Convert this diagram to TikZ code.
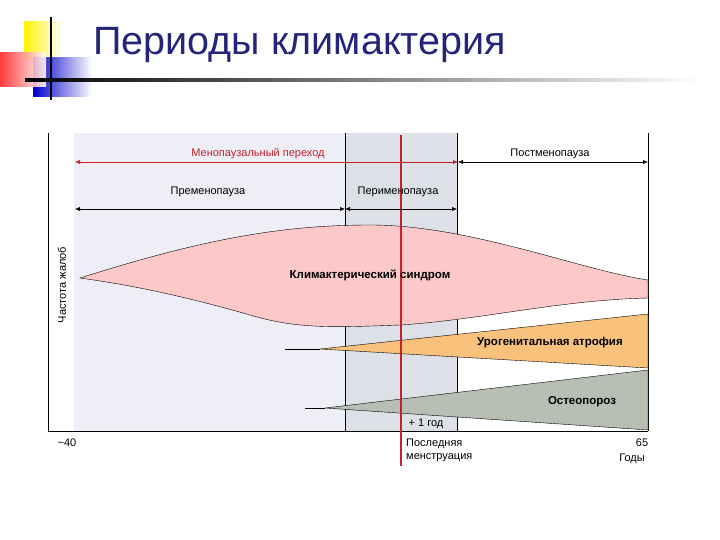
\documentclass[tikz,border=0pt]{standalone}
\usepackage{fontspec}
\setmainfont{Liberation Sans}
\usetikzlibrary{arrows.meta}
\definecolor{ttl}{HTML}{24247A}
\definecolor{lav}{HTML}{EEEEF6}
\definecolor{peri}{HTML}{DDE0E6}
\definecolor{pinkf}{HTML}{FCC8C8}
\definecolor{orf}{HTML}{F9C27C}
\definecolor{grf}{HTML}{B7BFB4}
\definecolor{redl}{HTML}{C8202A}
\tikzset{lbl/.style={font=\fontsize{11}{13}\selectfont,inner sep=1pt},
 bl/.style={font=\fontsize{11.5}{13}\selectfont\bfseries,inner sep=1pt},
 arr/.style={{Latex[length=5pt,width=4pt]}-{Latex[length=5pt,width=4pt]},thin}}
\begin{document}
\begin{tikzpicture}[x=1pt,y=-1pt]
\useasboundingbox (0,0) rectangle (720,540);
\fill[white] (0,0) rectangle (720,540);
% decoration
\shade[left color=yellow!90!orange,right color=white] (24,22) rectangle (62,60);
\shade[left color=blue!80!black,right color=white] (33,58) rectangle (92,97);
\shade[left color=red!85,right color=white,opacity=0.9] (0,53) rectangle (46,87);
\draw[line width=1.5pt] (51,17) -- (51,100);
\shade[left color=black,right color=white] (25,79) rectangle (700,81.5);
\node[anchor=west,text=ttl,font=\fontsize{39.5}{41}\selectfont,inner sep=0] (title) at (93,45) {Периоды климактерия};
% chart panel
\fill[lav] (74,133) rectangle (345,431);
\fill[peri] (345,133) rectangle (457,431);
\draw[thin] (48,133) -- (48,431) -- (648,431);
\draw[thin] (345,133) -- (345,431);
\draw[thin] (457,133) -- (457,431);
\draw[thin] (648,133) -- (648,431);
% shapes
\draw[fill=pinkf,thin] (80,278) .. controls (200,240) and (280,225) .. (370,225)
  .. controls (470,225) and (580,270) .. (648,280) -- (648,298)
  .. controls (560,300) and (480,320) .. (400,325)
  .. controls (340,327) and (300,330) .. (250,315)
  .. controls (180,295) and (130,285) .. (80,278) -- cycle;
\draw[fill=orf,thin] (320,349) -- (648,314) -- (648,368) -- cycle;
\draw[thin] (285,349) -- (320,349);
\draw[fill=grf,thin] (325,408) -- (648,370) -- (648,430) -- cycle;
\draw[thin] (305,408) -- (325,408);
% red line
\draw[redl,line width=1.2pt] (401,135) -- (401,466);
\node[bl] (ks) at (370,275) {Климактерический синдром};
\node[bl] (ua) at (550,343) {Урогенитальная атрофия};
\node[bl] (os) at (582,402) {Остеопороз};
% arrows
\coordinate (a1) at (75,162); \coordinate (a2) at (458,162); \coordinate (a3) at (648,162);
\draw[arr,redl] (a1) -- (a2);
\draw[arr] (a2) -- (a3);
\node[lbl,text=redl] (mp) at (258,154) {Менопаузальный переход};
\node[lbl] (pm) at (550,154) {Постменопауза};
\coordinate (b1) at (75,209); \coordinate (b2) at (345,209); \coordinate (b3) at (457,209);
\draw[arr] (b1) -- (b2);
\draw[arr] (b2) -- (b3);
\node[lbl] (pr) at (208,192) {Пременопауза};
\node[lbl] (pe) at (398,192) {Перименопауза};
% axis labels
\node[lbl,rotate=90] (ch) at (62,285) {Частота жалоб};
\node[lbl] (s40) at (67,443) {\textasciitilde40};
\node[lbl,anchor=west,align=left] (lm) at (405,450) {Последняя\\менструация};
\node[lbl] (god) at (426,424) {+ 1 год};
\node[lbl] (n65) at (642,443) {65};
\node[lbl] (gody) at (632,459) {Годы};
\end{tikzpicture}
\end{document}
